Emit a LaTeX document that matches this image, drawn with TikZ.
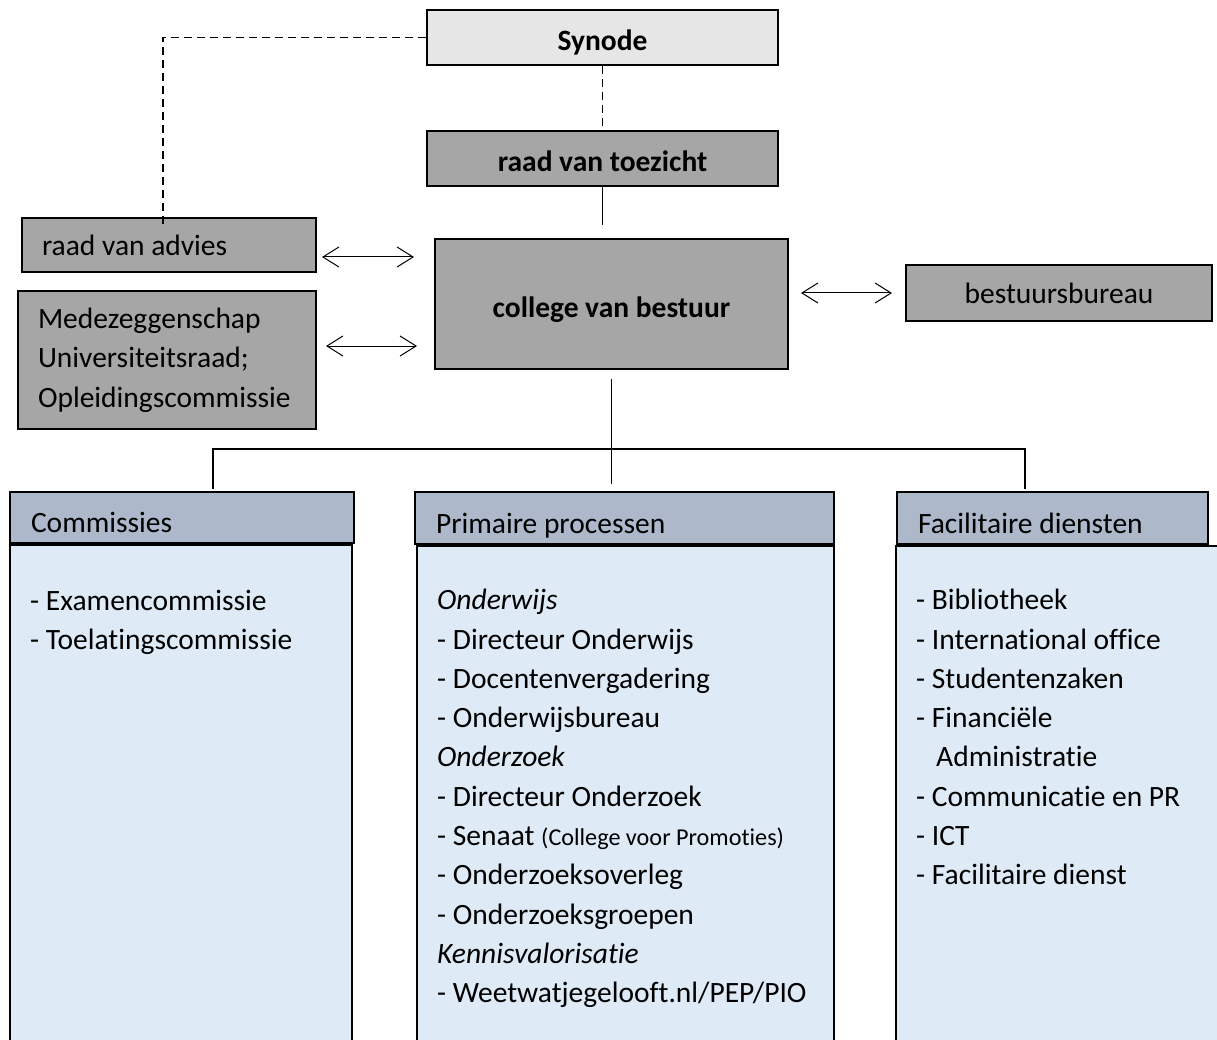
\documentclass[tikz,border=0pt]{standalone}
\usepackage{fontspec}
\setmainfont{Carlito}[Ligatures={NoCommon, NoRare, NoContextual}]
\usetikzlibrary{positioning, arrows.meta, calc}

\definecolor{synodegray}{HTML}{E7E6E6}
\definecolor{boardgray}{HTML}{A6A6A6}
\definecolor{headblue}{HTML}{ADB9CA}
\definecolor{bodyblue}{HTML}{DEEAF6}
\newcommand{\orgfont}{\fontsize{29.5}{39.3}\selectfont}

\begin{document}
\begin{tikzpicture}[
    x=1pt, y=-1pt,
    font=\orgfont,
    % Styles
    box/.style={ % Grey organ box
        draw,
        line width=2pt,
        fill=boardgray,
        minimum height=55pt
    },
    boldbox/.style={ % Governing bodies
        box,
        text height=26pt,
        text depth=0pt,
        font=\orgfont\bfseries
    },
    sidebox/.style={ % Left aligned side boxes
        box,
        inner xsep=20pt,
        align=flush left
    },
    headbox/.style={ % Column header
        draw,
        line width=2pt,
        fill=headblue,
        minimum height=51pt,
        text height=30pt,
        text depth=0pt,
        inner xsep=21pt,
        align=flush left
    },
    bodybox/.style={ % Column body
        draw,
        line width=2pt,
        fill=bodyblue,
        anchor=north west,
        minimum height=503pt
    },
    listtext/.style={
        inner sep=0pt,
        align=left
    },
    link/.style={
        line width=1.2pt
    },
    dashlink/.style={
        link,
        dash pattern=on 8pt off 5pt
    },
    twoway/.style={ % Two-way open arrows
        {Straight Barb[length=16pt, width=20pt]}-{Straight Barb[length=16pt, width=20pt]},
        line width=1pt
    }
]
    \useasboundingbox (0,0) rectangle (1217,1040);
    \clip (0,0) rectangle (1217,1040);

    % Governing bodies
    \node[boldbox, fill=synodegray, minimum width=351pt] (synode) at (602.5,37.5) {Synode};
    \node[boldbox, minimum width=351pt] (toezicht) [below=64pt of synode] {raad van toezicht};
    \node[boldbox, minimum width=353pt, minimum height=130pt] (cvb) [below=51pt of toezicht, xshift=9pt] {college van bestuur};

    % Side boxes
    \node[sidebox, text width=254pt, minimum height=54pt] (advies) at (169,245) {raad van advies};
    \node[sidebox, text width=258pt, minimum height=138pt] (medez) [below=17pt of advies, xshift=-2pt]
        {Medezeggenschap\\Universiteitsraad;\\Opleidingscommissie};
    \node[box, minimum width=306pt, minimum height=56pt] (bureau) at (1059,293) {bestuursbureau};

    % Column headers
    \node[headbox, text width=302pt] (comhead) at (182,517) {Commissies};
    \node[headbox, text width=377pt, minimum height=52pt] (primhead) at (624.5,518) {Primaire processen};
    \node[headbox, text width=269pt, minimum height=52pt] (fachead) at (1052.5,518) {Facilitaire diensten};

    % Column bodies
    \node[bodybox, minimum width=342pt] (combody) at (comhead.south west) {};
    \node[bodybox, minimum width=417pt] (primbody) at ([xshift=2pt]primhead.south west) {};
    \node[bodybox, minimum width=334pt] (facbody) at ([xshift=-1pt]fachead.south west) {};

    % Column contents
    \node[listtext] (comlist) [below right=39pt and 21pt of combody.north west]
        {\strut- Examencommissie\\- Toelatingscommissie};
    \node[listtext] (primlist) [below right=37pt and 21pt of primbody.north west]
        {\strut\textit{Onderwijs}\\- Directeur Onderwijs\\- Docentenvergadering\\- Onderwijsbureau\\
        \textit{Onderzoek}\\- Directeur Onderzoek\\- Senaat {\fontsize{24.2}{39.3}\selectfont(College voor Promoties)}\\
        - Onderzoeksoverleg\\- Onderzoeksgroepen\\\textit{Kennisvalorisatie}\\- Weetwatjegelooft.nl/PEP/PIO};
    \node[listtext] (faclist) [below right=37pt and 21pt of facbody.north west]
        {\strut- Bibliotheek\\- International office\\- Studentenzaken\\- Financiële\\\hspace*{20pt}Administratie\\
        - Communicatie en PR\\- ICT\\- Facilitaire dienst};

    % Lines of supervision
    \draw[dashlink] (synode.south) -- (toezicht.north);
    \draw[dashlink] (synode.west) -| ([xshift=-6pt, yshift=-10pt]advies.north);
    \draw[link, shorten >=13pt] (toezicht.south) -- (toezicht.south |- cvb.north);

    % Two-way relations
    \draw[twoway, shorten <=5pt, shorten >=20pt] ([yshift=-12pt]advies.east) -- ([yshift=-12pt]advies.east -| cvb.west);
    \draw[twoway, shorten <=9pt, shorten >=17pt] ([yshift=14pt]medez.east) -- ([yshift=14pt]medez.east -| cvb.west);
    \draw[twoway, shorten <=12pt, shorten >=13pt] (bureau.west -| cvb.east) -- (bureau.west);

    % Tree to the columns
    \coordinate (bus) at (613,449);
    \draw[link, shorten <=9pt, shorten >=7pt] (cvb.south) -- (cvb.south |- primhead.north);
    \draw[link, shorten <=2pt, shorten >=2pt] ([xshift=31pt]comhead.north) |- (bus) -| ([xshift=-27.5pt]fachead.north);
\end{tikzpicture}
\end{document}
